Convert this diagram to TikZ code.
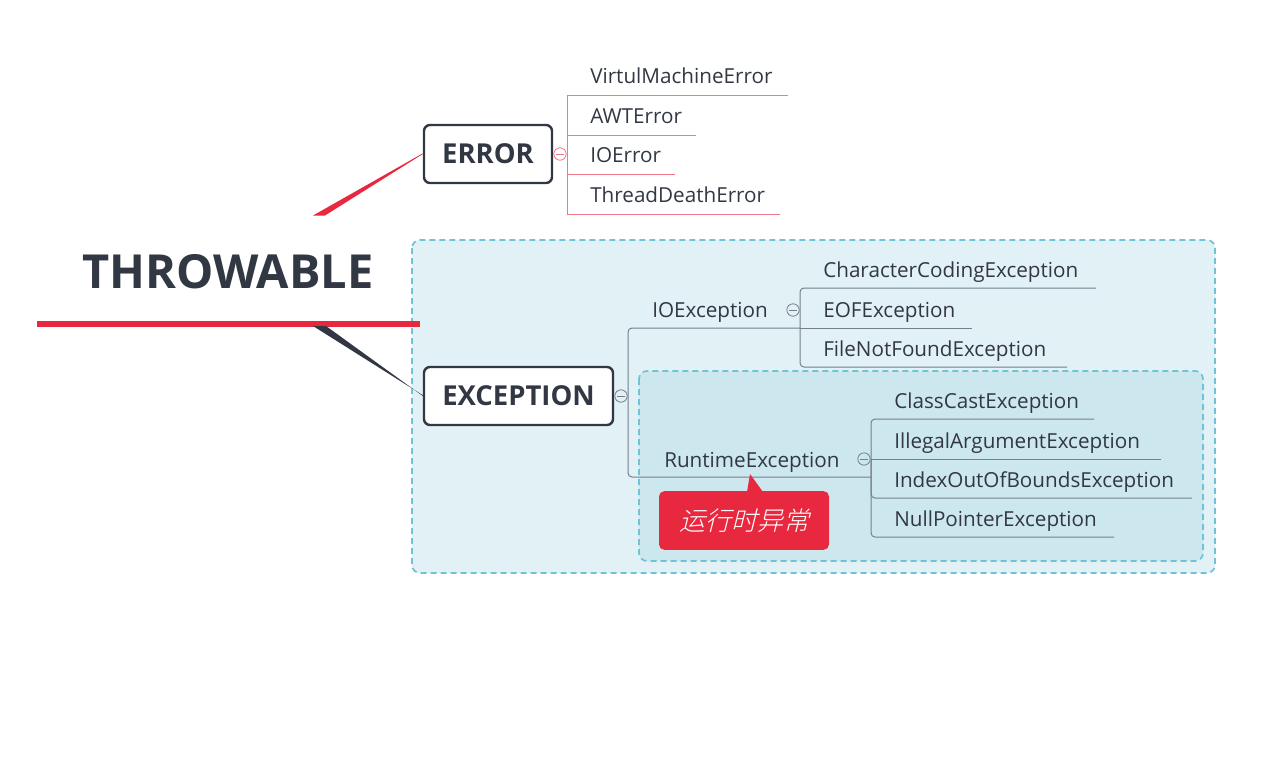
\documentclass[tikz,border=0pt]{standalone}
\usepackage{fontspec}
\setmainfont{Open Sans}
\newfontfamily\cjk[FakeSlant=0.25]{Noto Sans CJK SC Light}
\definecolor{ink}{RGB}{50,55,68}
\definecolor{mainred}{RGB}{232,40,63}
\definecolor{pinkline}{RGB}{240,120,135}
\definecolor{grayline}{RGB}{120,126,136}
\definecolor{outerfill}{RGB}{226,241,245}
\definecolor{innerfill}{RGB}{205,231,238}
\definecolor{dashcol}{RGB}{110,196,214}
\begin{document}
\begin{tikzpicture}[x=0.75pt,y=-0.75pt,
  topic/.style={draw=ink,line width=1.8pt,rounded corners=4.5pt,fill=white,text=ink,font=\bfseries\fontsize{20.6}{24}\selectfont,inner sep=0pt},
  leaf/.style={text=ink,font=\fontsize{15.5}{18}\selectfont,inner sep=0pt,anchor=base west},
  errl/.style={draw=pinkline,line width=0.75pt},
  grl/.style={draw=grayline,line width=0.75pt},
  region/.style={dashed,dash pattern=on 4.5pt off 3pt,draw=dashcol,line width=1.3pt,rounded corners=6pt},
  fold/.style={circle,inner sep=0pt,minimum size=9.3pt,line width=0.6pt},
]
\useasboundingbox (0,0) rectangle (1264,757);

% boundary regions
\filldraw[region,fill=outerfill] (412,240) rectangle (1215,573);
\filldraw[region,fill=innerfill] (639,371) rectangle (1203,561);

% central topic
\node[text=ink,font=\bfseries\fontsize{35.2}{40}\selectfont,inner sep=0pt,anchor=base] (thr) at (228,288) {THROWABLE};
\coordinate (ul) at (37,324);
\coordinate (ur) at (420,324);
\draw[mainred,line width=5.2pt] (ul) -- (ur);

% main topics
\node[topic,minimum width=96pt,minimum height=43.5pt] (err) at (488,154) {ERROR};
\node[topic,minimum width=141.75pt,minimum height=43.5pt] (exc) at (518.5,396) {EXCEPTION};

% connectors from the centre
\fill[mainred] (313,215.5) -- (325,215.5) -- (err.west) -- ([yshift=0.5pt]err.west) -- cycle;
\fill[ink] (313,326) -- (326,326) -- (exc.west) -- ([yshift=0.6pt]exc.west) -- cycle;

% ERROR children
\node[leaf] (e1) at (590,83) {VirtulMachineError};
\node[leaf] (e2) at (590,123) {AWTError};
\node[leaf] (e3) at (590,162) {IOError};
\node[leaf] (e4) at (590,202) {ThreadDeathError};
\draw[errl] ([shift={(15,12)}]e1.base east) -- ([shift={(-23,12)}]e1.base west) -- ([shift={(-23,12)}]e4.base west) -- ([shift={(15,12)}]e4.base east);
\draw[errl] ([shift={(-23,12)}]e2.base west) -- ([shift={(14,12)}]e2.base east);
\draw[errl] ([shift={(-23,12)}]e3.base west) -- ([shift={(14,12)}]e3.base east);
\node[fold,draw=pinkline,fill=white] (f1) at (560,154) {};
\draw[pinkline,line width=0.6pt] ([xshift=-2.8pt]f1.center) -- ([xshift=2.8pt]f1.center);

% EXCEPTION children
\node[leaf] (io) at (652,317) {IOException};
\node[leaf] (rt) at (664,467) {RuntimeException};
\draw[grl,rounded corners=3pt] (800,328) -- (628,328) -- (628,477) -- (871,477);
\node[fold,draw=grayline,fill=outerfill] (f2) at (621,396) {};
\draw[grayline,line width=0.6pt] ([xshift=-2.8pt]f2.center) -- ([xshift=2.8pt]f2.center);

% IOException children
\node[leaf] (i1) at (823,277) {CharacterCodingException};
\node[leaf] (i2) at (823,317) {EOFException};
\node[leaf] (i3) at (823,356) {FileNotFoundException};
\draw[grl,rounded corners=3pt] (1096,288) -- (800,288) -- (800,367) -- (1067,367);
\draw[grl] (800,328) -- (972,328);
\node[fold,draw=grayline,fill=outerfill] (f3) at (793,310) {};
\draw[grayline,line width=0.6pt] ([xshift=-2.8pt]f3.center) -- ([xshift=2.8pt]f3.center);

% RuntimeException children
\node[leaf] (r1) at (894,408) {ClassCastException};
\node[leaf] (r2) at (894,448) {IllegalArgumentException};
\node[leaf] (r3) at (894,487) {IndexOutOfBoundsException};
\node[leaf] (r4) at (894,526) {NullPointerException};
\draw[grl,rounded corners=3pt] (1094,419) -- (871,419) -- (871,537) -- (1114,537);
\draw[grl] (1161,459) -- (871,459);
\draw[grl,rounded corners=3pt] (871,459) -- (871,498) -- (1192,498);
\node[fold,draw=grayline,fill=innerfill] (f4) at (864,459) {};
\draw[grayline,line width=0.6pt] ([xshift=-2.8pt]f4.center) -- ([xshift=2.8pt]f4.center);

% callout
\node[fill=mainred,rounded corners=4pt,minimum width=127.5pt,minimum height=44pt,inner sep=0pt,text=white,font=\cjk\fontsize{19.5}{22}\selectfont] (note) at (744,520.5) {运行时异常};
\fill[mainred] (747,492) -- (750,474) -- (763,492) -- cycle;
\end{tikzpicture}
\end{document}
